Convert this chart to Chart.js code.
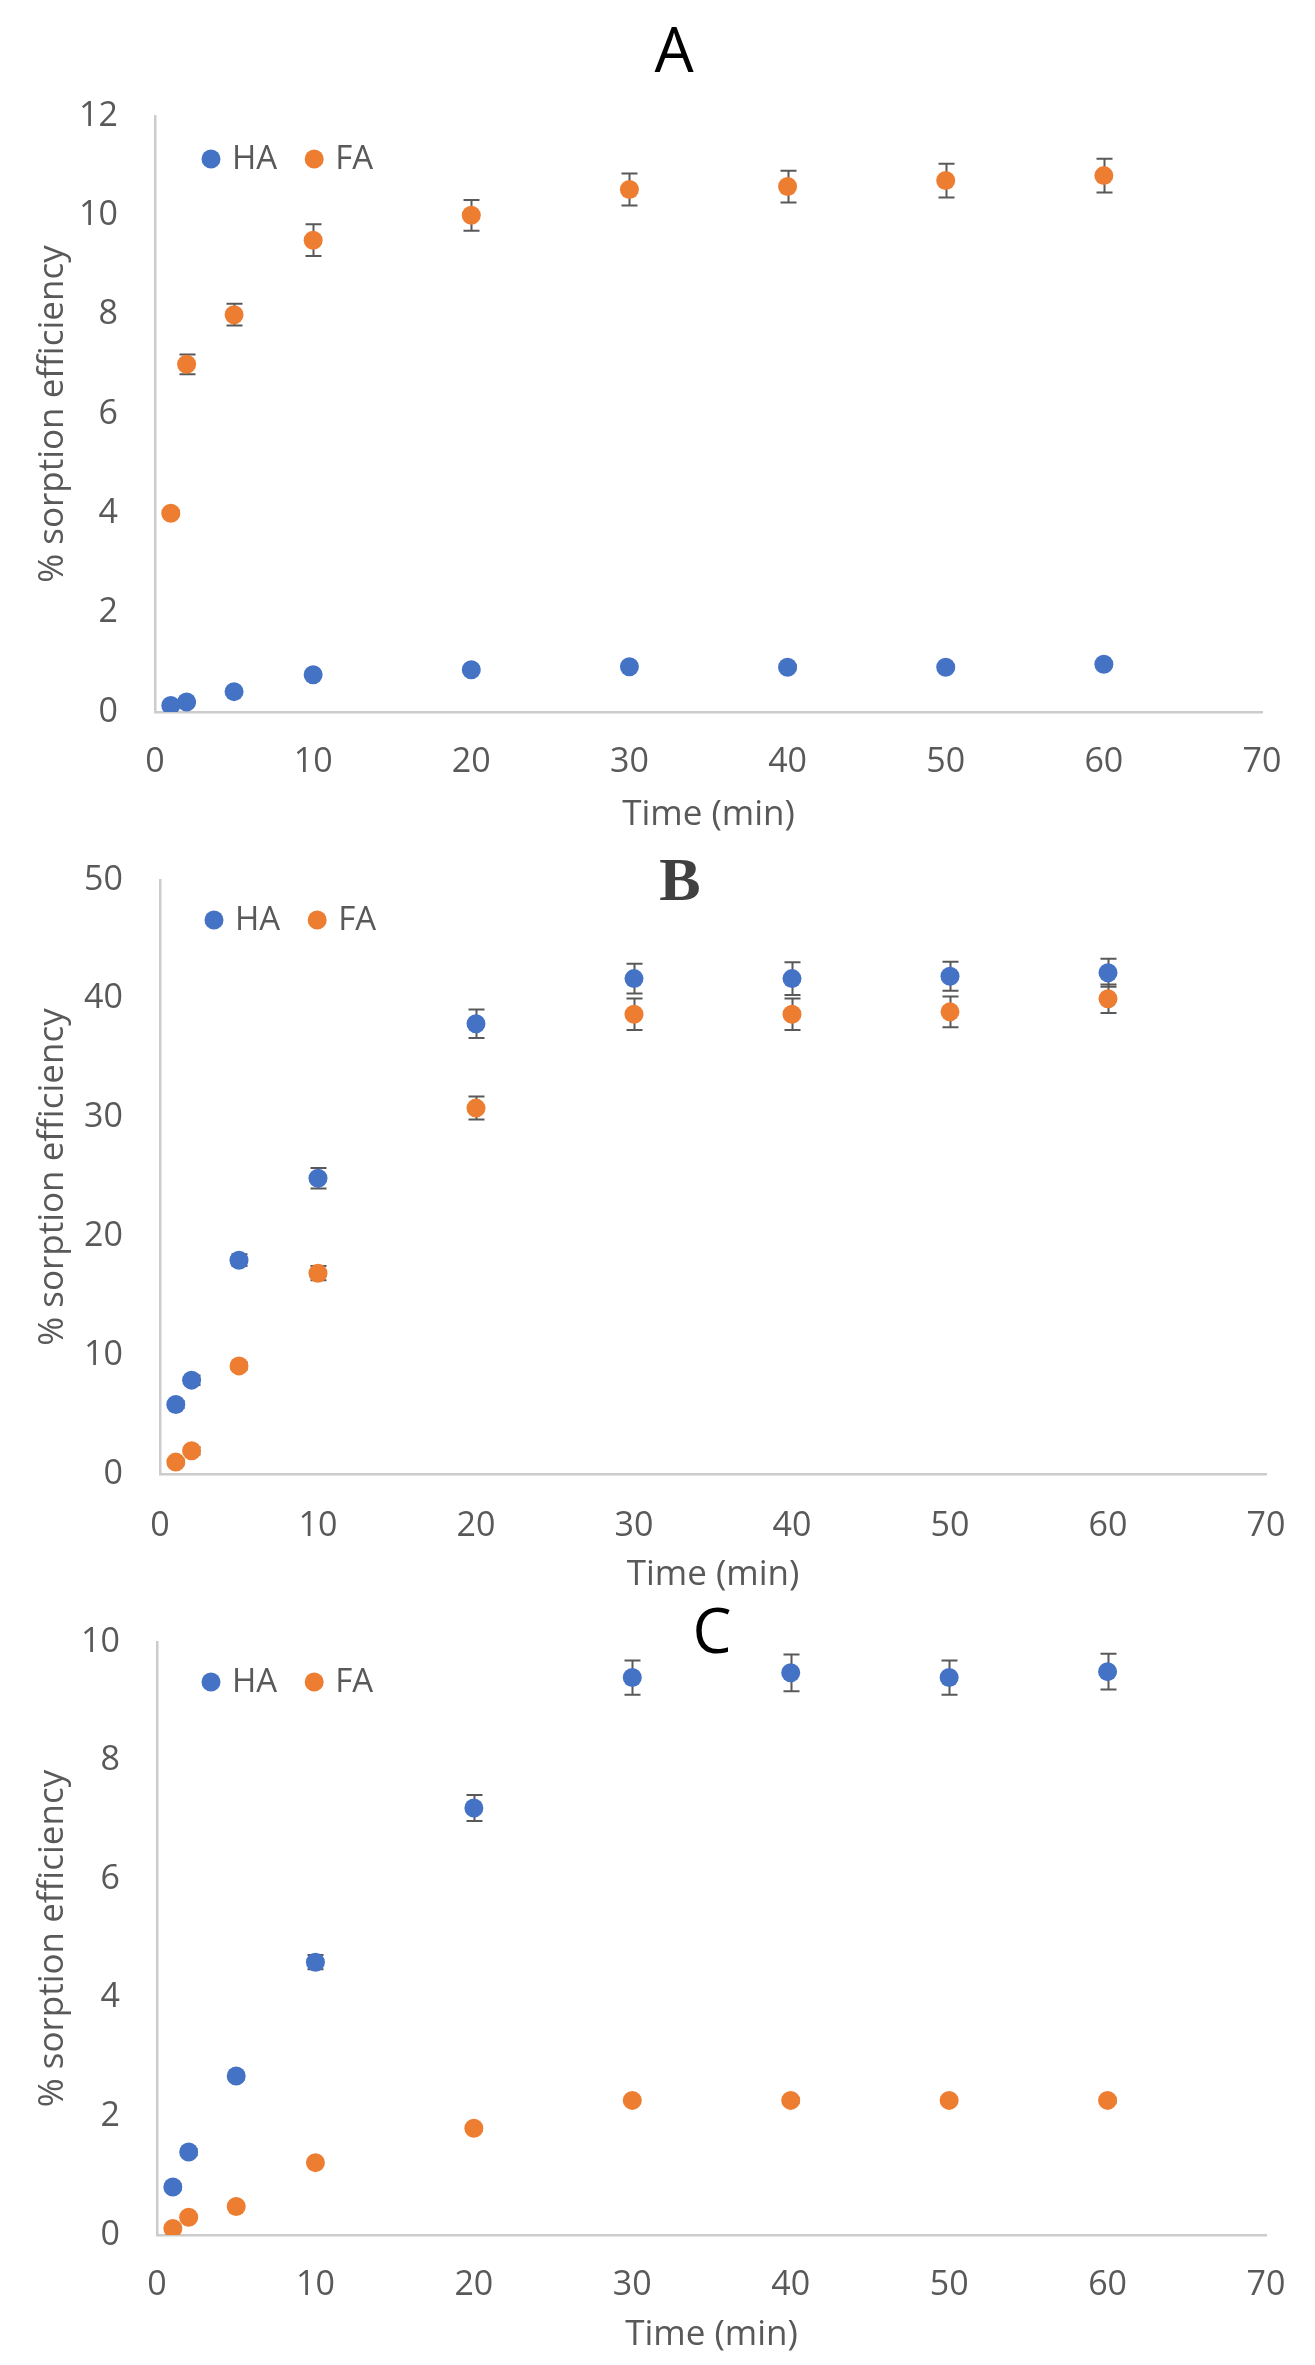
<!DOCTYPE html>
<html><head><meta charset="utf-8">
<script src="https://cdn.jsdelivr.net/npm/chart.js@4.4.1/dist/chart.umd.min.js"></script>
<style>
html,body{margin:0;padding:0;background:#fff;}
body{width:1315px;height:2365px;position:relative;overflow:hidden;}
canvas{position:absolute;left:0;display:block;}
</style></head><body>
<canvas id="cA" width="1315" height="845" style="top:0px"></canvas>
<canvas id="cB" width="1315" height="755" style="top:845px"></canvas>
<canvas id="cC" width="1315" height="765" style="top:1600px"></canvas>
<script>
// ---------- data ----------
const times = [1, 2, 5, 10, 20, 30, 40, 50, 60];
const seriesNames = ['HA', 'FA'];
const panelTitles = ['A', 'B', 'C'];
const xTitle = 'Time (min)';
const yTitle = '% sorption efficiency';
const xRange = [0, 70, 10];          // min, max, step
const yRangeA = [0, 12, 2];
const yRangeB = [0, 50, 10];
const yRangeC = [0, 10, 2];

// Panel A
const aHA    = [0.13, 0.2, 0.41, 0.75, 0.85, 0.91, 0.9, 0.9, 0.96];
const aHAerr = [0.02, 0.02, 0.03, 0.04, 0.04, 0.04, 0.04, 0.04, 0.04];
const aFA    = [4.0, 7.0, 8.0, 9.5, 10.0, 10.52, 10.58, 10.7, 10.8];
const aFAerr = [0.05, 0.2, 0.22, 0.32, 0.31, 0.32, 0.32, 0.34, 0.34];
// Panel B
const bHA    = [5.85, 7.9, 18.0, 24.9, 37.9, 41.7, 41.7, 41.9, 42.2];
const bHAerr = [0.3, 0.4, 0.5, 0.86, 1.2, 1.25, 1.37, 1.22, 1.18];
const bFA    = [1.0, 1.95, 9.1, 16.9, 30.8, 38.7, 38.7, 38.9, 40.0];
const bFAerr = [0.2, 0.3, 0.3, 0.6, 0.97, 1.33, 1.33, 1.29, 1.2];
// Panel C
const cHA    = [0.81, 1.4, 2.68, 4.6, 7.2, 9.4, 9.48, 9.4, 9.5];
const cHAerr = [0.05, 0.05, 0.06, 0.12, 0.22, 0.29, 0.31, 0.29, 0.3];
const cFA    = [0.11, 0.3, 0.48, 1.22, 1.8, 2.27, 2.27, 2.27, 2.27];
const cFAerr = [0.02, 0.02, 0.03, 0.03, 0.04, 0.04, 0.04, 0.04, 0.04];

// ---------- styles ----------
const BLUE = '#4472C4', ORANGE = '#ED7D31';
const TEXT = '#595959', AXIS = '#cccccc', ERR = '#595959';
const FONT = '"Open Sans", "Noto Sans", sans-serif';

// ---------- plugins ----------
const errorBarPlugin = {
  id: 'errorBars',
  beforeDatasetsDraw(chart, args, opts) {
    const ctx = chart.ctx, xs = chart.scales.x, ys = chart.scales.y;
    ctx.save();
    ctx.strokeStyle = opts.color; ctx.lineWidth = opts.width;
    chart.data.datasets.forEach(ds => {
      (ds.errors || []).forEach((e, i) => {
        const p = ds.data[i];
        const px = Math.round(xs.getPixelForValue(p.x)) + 0.5;
        const y1 = ys.getPixelForValue(p.y + e), y2 = ys.getPixelForValue(p.y - e);
        const h = opts.cap / 2;
        ctx.beginPath();
        ctx.moveTo(px, y1); ctx.lineTo(px, y2);
        ctx.moveTo(px - h, y1); ctx.lineTo(px + h, y1);
        ctx.moveTo(px - h, y2); ctx.lineTo(px + h, y2);
        ctx.stroke();
      });
    });
    ctx.restore();
  }
};
const innerLegendPlugin = {
  id: 'innerLegend',
  afterDraw(chart, args, opts) {
    const ctx = chart.ctx, a = chart.chartArea;
    ctx.save();
    ctx.font = opts.font; ctx.textBaseline = 'middle'; ctx.textAlign = 'left';
    let x = a.left + opts.dx; const y = a.top + opts.dy;
    chart.data.datasets.forEach(ds => {
      ctx.fillStyle = ds.backgroundColor;
      ctx.beginPath(); ctx.arc(x, y, opts.r, 0, Math.PI * 2); ctx.fill();
      ctx.fillStyle = opts.color;
      ctx.fillText(ds.label, x + opts.textGap, y + 1);
      x += opts.textGap + ctx.measureText(ds.label).width + opts.itemGap;
    });
    ctx.restore();
  }
};
const panelTitlePlugin = {
  id: 'panelTitle',
  afterDraw(chart, args, opts) {
    const ctx = chart.ctx;
    ctx.save();
    ctx.font = opts.font; ctx.fillStyle = opts.color;
    ctx.textAlign = 'center'; ctx.textBaseline = 'middle';
    ctx.fillText(opts.text, opts.x, opts.y);
    ctx.restore();
  }
};

function makeDatasets(ha, haErr, fa, faErr) {
  return [
    { label: seriesNames[0], data: times.map((t, i) => ({x: t, y: ha[i]})), errors: haErr,
      backgroundColor: BLUE, borderColor: BLUE },
    { label: seriesNames[1], data: times.map((t, i) => ({x: t, y: fa[i]})), errors: faErr,
      backgroundColor: ORANGE, borderColor: ORANGE }
  ];
}

function makeChart(id, cfg) {
  const c = document.getElementById(id);
  return new Chart(c, {
    type: 'scatter',
    data: { datasets: makeDatasets(...cfg.series) },
    plugins: [errorBarPlugin, innerLegendPlugin, panelTitlePlugin],
    options: {
      responsive: false, animation: false, devicePixelRatio: 1,
      layout: { padding: { top: cfg.top, right: 1315 - cfg.right, left: 0, bottom: 0 } },
      elements: { point: { radius: 9.5, hoverRadius: 9.5, borderWidth: 0, pointStyle: 'circle' } },
      scales: {
        x: {
          type: 'linear', min: xRange[0], max: xRange[1],
          ticks: { stepSize: xRange[2], color: TEXT, font: { family: FONT, size: 34 }, padding: cfg.xTickPad },
          grid: { display: false, drawTicks: false },
          border: { display: true, color: AXIS, width: 2.5 },
          title: { display: true, text: xTitle, color: TEXT, font: { family: FONT, size: 35 },
                   padding: { top: 0, bottom: cfg.xTitlePad } },
          afterFit(s) { s.height = cfg.h - cfg.bottom; s.paddingLeft = 0; s.paddingRight = 0; }
        },
        y: {
          type: 'linear', min: cfg.y[0], max: cfg.y[1],
          ticks: { stepSize: cfg.y[2], color: TEXT, font: { family: FONT, size: 34 }, padding: 37 },
          grid: { display: false, drawTicks: false },
          border: { display: true, color: AXIS, width: 2.5 },
          title: { display: true, text: yTitle, color: TEXT, font: { family: FONT, size: 35 },
                   padding: { top: 32, bottom: 0 } },
          afterFit(s) { s.width = cfg.left; s.paddingTop = 0; s.paddingBottom = 0; }
        }
      },
      plugins: {
        legend: { display: false }, title: { display: false }, tooltip: { enabled: false },
        errorBars: { color: ERR, width: 2, cap: 16 },
        innerLegend: { font: '33px ' + FONT, color: TEXT, dx: cfg.legDx, dy: cfg.legDy, r: 9.5, textGap: 21, itemGap: 37 },
        panelTitle: cfg.title
      }
    }
  });
}

makeChart('cA', {
  series: [aHA, aHAerr, aFA, aFAerr], y: yRangeA, h: 845,
  left: 155, right: 1262, top: 116, bottom: 712,
  xTickPad: 30, xTitlePad: 9, legDx: 56, legDy: 43,
  title: { text: panelTitles[0], x: 674, y: 54, font: '400 62px ' + FONT, color: '#000000' }
});
makeChart('cB', {
  series: [bHA, bHAerr, bFA, bFAerr], y: yRangeB, h: 755,
  left: 160, right: 1266, top: 35, bottom: 629,
  xTickPad: 32, xTitlePad: 4, legDx: 54, legDy: 40,
  title: { text: panelTitles[1], x: 680, y: 39, font: 'bold 62px "Liberation Serif", "DejaVu Serif", serif', color: '#404040' }
});
makeChart('cC', {
  series: [cHA, cHAerr, cFA, cFAerr], y: yRangeC, h: 765,
  left: 157, right: 1266, top: 42, bottom: 635,
  xTickPad: 30, xTitlePad: 9, legDx: 54, legDy: 40,
  title: { text: panelTitles[2], x: 712, y: 35, font: '400 62px ' + FONT, color: '#000000' }
});
</script>
</body></html>
